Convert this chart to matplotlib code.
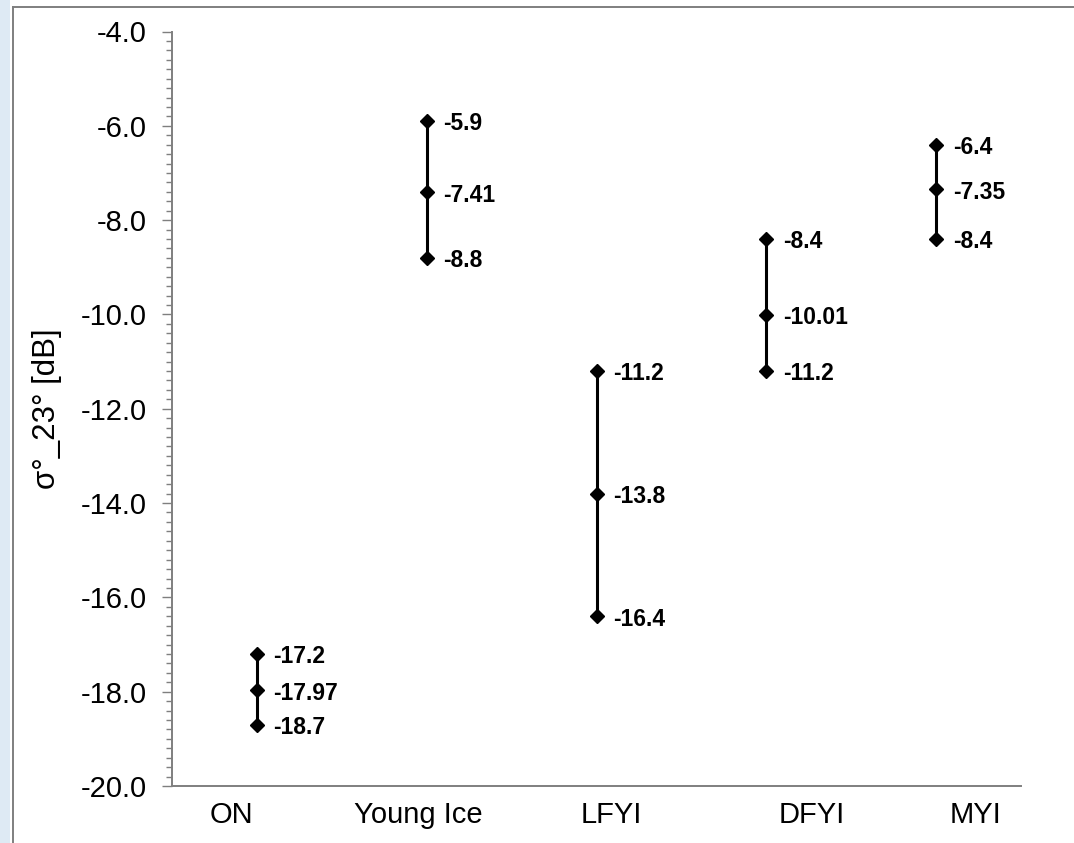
import matplotlib
matplotlib.use("Agg")
import matplotlib.pyplot as plt
from matplotlib.ticker import MultipleLocator, FormatStrFormatter
from matplotlib.lines import Line2D
from matplotlib.patches import Rectangle

# ice classes and sigma0 statistics (max / mean / min)
classes = ["ON", "Young Ice", "LFYI", "DFYI", "MYI"]
bar_x = [1, 2, 3, 4, 5]
label_x = [0.85, 1.95, 3.09, 4.27, 5.23]
s_max = [-17.2, -5.9, -11.2, -8.4, -6.4]
s_mean = [-17.97, -7.41, -13.8, -10.01, -7.35]
s_min = [-18.7, -8.8, -16.4, -11.2, -8.4]

plt.rcParams['font.family'] = ['Liberation Sans', 'DejaVu Sans']

fig = plt.figure(figsize=(10.74, 8.43), dpi=100)
ax = fig.add_axes([172/1074, 1-786/843, 849/1074, (786-31.5)/843])

# outer frame like the original screenshot
fig.patches.append(Rectangle((0, 0), 10/1074, 1, transform=fig.transFigure,
                             facecolor="#deeaf4", edgecolor="none"))
fig.lines.append(Line2D([13/1074, 13/1074], [0, 1-7/843], transform=fig.transFigure,
                        color="#7f7f7f", lw=1.4))
fig.lines.append(Line2D([13/1074, 1], [1-7/843, 1-7/843], transform=fig.transFigure,
                        color="#7f7f7f", lw=1.4))

for i in range(len(classes)):
    xs = [bar_x[i]] * 3
    ys = [s_max[i], s_mean[i], s_min[i]]
    ax.plot(xs, ys, color="black", lw=2.2, marker="D", markersize=7.2)
    for v in ys:
        ax.annotate(f"{v:g}", (bar_x[i], v), xytext=(12, -2), textcoords="offset points",
                    ha="left", va="center", fontsize=16.5, fontweight="bold")

ax.set_xlim(0.5, 5.5)
ax.set_ylim(-20, -4)
ax.yaxis.set_major_locator(MultipleLocator(2))
ax.yaxis.set_minor_locator(MultipleLocator(0.2))
ax.yaxis.set_major_formatter(FormatStrFormatter("%.1f"))
ax.set_xticks(label_x)
ax.set_xticklabels(classes, fontsize=21)
ax.tick_params(axis="x", length=0, pad=11)
ax.tick_params(axis="y", which="major", length=7.2, width=1, color="#7f7f7f",
               labelsize=21, pad=11)
ax.tick_params(axis="y", which="minor", length=4.3, width=1, color="#7f7f7f")

for s in ["top", "right"]:
    ax.spines[s].set_visible(False)
for s in ["left", "bottom"]:
    ax.spines[s].set_color("#7f7f7f")
    ax.spines[s].set_linewidth(1.4)

ax.set_ylabel("σ°_23° [dB]", fontsize=22.5)
ax.yaxis.set_label_coords(-0.13, 0.5)

fig.savefig("out.png", dpi=100)
